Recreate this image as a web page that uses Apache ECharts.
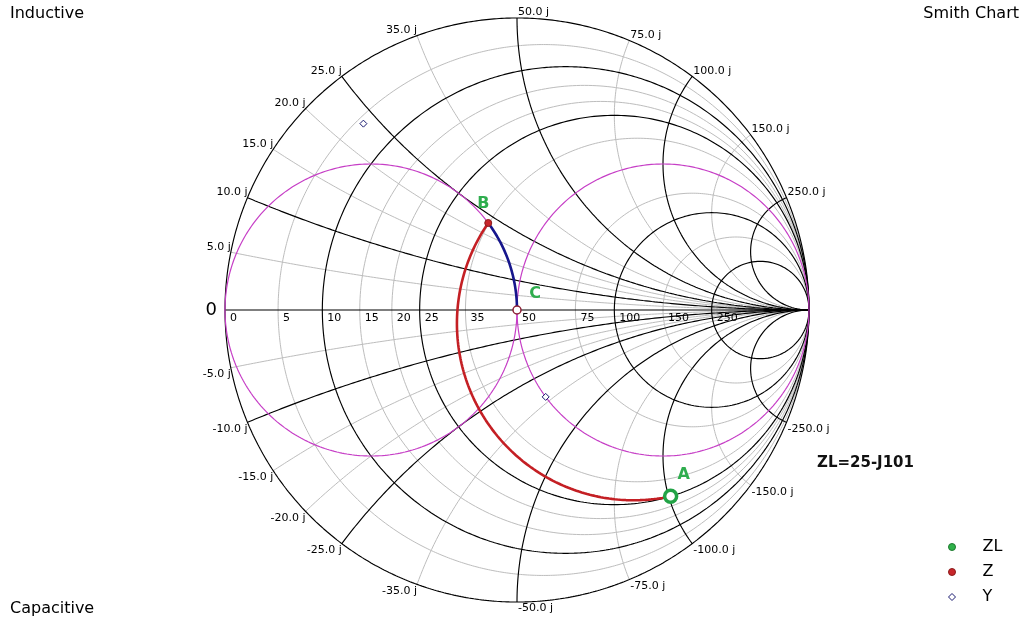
<!DOCTYPE html>
<html>
<head>
<meta charset="utf-8">
<script src="https://cdn.jsdelivr.net/npm/echarts@6/dist/echarts.min.js"></script>
<style>html,body{margin:0;padding:0;background:#fff}#chart{width:1022px;height:625px}</style>
</head>
<body>
<div id="chart"></div>
<script>
// ---------------- data ----------------
const Z0 = 50;                                            // reference impedance (ohm)
const resistanceValues = [5, 10, 15, 20, 25, 35, 50, 75, 100, 150, 250];   // ohm
const reactanceValues  = [5, 10, 15, 20, 25, 35, 50, 75, 100, 150, 250];   // ohm
const majorValues = [10, 25, 50, 100, 250];
const resistanceLabels = ['0', '5', '10', '15', '20', '25', '35', '50', '75', '100', '150', '250'];
const reactanceLabelsPos = ['5.0 j', '10.0 j', '15.0 j', '20.0 j', '25.0 j', '35.0 j', '50.0 j', '75.0 j', '100.0 j', '150.0 j', '250.0 j'];
const reactanceLabelsNeg = ['-5.0 j', '-10.0 j', '-15.0 j', '-20.0 j', '-25.0 j', '-35.0 j', '-50.0 j', '-75.0 j', '-100.0 j', '-150.0 j', '-250.0 j'];
const zlPoint = [25, -101];                 // ZL (R, X) ohm  -> point A
const zPoints = [[34.8, 23.0], [50, 0]];    // Z after line (B), matched (C)
const yPoints = [[2.31, 9.33], [20.0, -13.2]]; // admittances (G, B) in mS
const redPathZ = [[25, -101], [32.7, -4.7], [34.8, 23.0]];   // A -> B (start, via, end)
const bluePathZ = [[34.8, 23.0], [50, 0]];                   // B -> C along g = 1
const pointNames = ['A', 'B', 'C'];
const legendNames = ['ZL', 'Z', 'Y'];

// ---------------- helpers ----------------
const FONT = 'DejaVu Sans';
function gammaOf(r, x) {
  const d = (r + 1) * (r + 1) + x * x;
  return [(r * r + x * x - 1) / d, 2 * x / d];
}
function gammaZ(R, X) { return gammaOf(R / Z0, X / Z0); }
function gammaYms(G, B) { return gammaOf(G * Z0 / 1000, B * Z0 / 1000); }
function rCircle(r) {
  const c = r / (1 + r), rad = 1 / (1 + r), pts = [];
  for (let i = 0; i <= 720; i++) { const a = i * Math.PI / 360; pts.push([c + rad * Math.cos(a), rad * Math.sin(a)]); }
  return pts;
}
function xArc(x) {
  const pts = [], N = 600;
  for (let i = 0; i < N; i++) { const t = i / N; pts.push(gammaOf(t / (1 - t), x)); }
  pts.push([1, 0]);
  return pts;
}
function lineSeries(data, color, width, z, name) {
  return { type: 'line', name: name || '', data: data, showSymbol: false, symbol: 'none', smooth: false,
    lineStyle: { color: color, width: width, opacity: 1 }, silent: true, animation: false, clip: false, z: z };
}
function circumArc(p1, p2, p3) {
  const [ax, ay] = p1, [bx, by] = p2, [cx, cy] = p3;
  const d = 2 * (ax * (by - cy) + bx * (cy - ay) + cx * (ay - by));
  const ux = ((ax * ax + ay * ay) * (by - cy) + (bx * bx + by * by) * (cy - ay) + (cx * cx + cy * cy) * (ay - by)) / d;
  const uy = ((ax * ax + ay * ay) * (cx - bx) + (bx * bx + by * by) * (ax - cx) + (cx * cx + cy * cy) * (bx - ax)) / d;
  const R = Math.hypot(ax - ux, ay - uy);
  const TWO = 2 * Math.PI;
  const mod = v => ((v % TWO) + TWO) % TWO;
  const a1 = Math.atan2(ay - uy, ax - ux), a2 = Math.atan2(by - uy, bx - ux), a3 = Math.atan2(cy - uy, cx - ux);
  const d13 = mod(a3 - a1), d12 = mod(a2 - a1);
  const sweep = d12 < d13 ? d13 : d13 - TWO;
  const pts = [];
  for (let i = 0; i <= 300; i++) { const a = a1 + sweep * i / 300; pts.push([ux + R * Math.cos(a), uy + R * Math.sin(a)]); }
  return pts;
}
function constGPath(zStart, zEnd) {
  const y = ([R, X]) => { const r = R / Z0, x = X / Z0, m = r * r + x * x; return [r / m, -x / m]; };
  const ys = y(zStart), ye = y(zEnd), pts = [];
  for (let i = 0; i <= 200; i++) {
    const s = i / 200, g = ys[0] + (ye[0] - ys[0]) * s, b = ys[1] + (ye[1] - ys[1]) * s;
    const gm = gammaOf(g, b); pts.push([-gm[0], -gm[1]]);
  }
  return pts;
}

// ---------------- series ----------------
const series = [];
const GRAY = '#bdbdbd', BLACK = '#000000', MAG = '#c63ec6';
resistanceValues.forEach(R => {
  if (R === Z0) return;
  const major = majorValues.includes(R);
  series.push(lineSeries(rCircle(R / Z0), major ? BLACK : GRAY, major ? 1.15 : 1, major ? 2 : 1));
});
reactanceValues.forEach(X => {
  const major = majorValues.includes(X);
  series.push(lineSeries(xArc(X / Z0), major ? BLACK : GRAY, major ? 1.15 : 1, major ? 2 : 1));
  series.push(lineSeries(xArc(-X / Z0), major ? BLACK : GRAY, major ? 1.15 : 1, major ? 2 : 1));
});
series.push(lineSeries(rCircle(0), BLACK, 1.15, 2));          // outer circle
series.push(lineSeries(xArc(0), BLACK, 1.15, 2));             // real axis
series.push(lineSeries(rCircle(1), MAG, 1.2, 3));             // r = 1 circle
series.push(lineSeries(rCircle(1).map(p => [-p[0], -p[1]]), MAG, 1.2, 3)); // g = 1 circle

const redPts = circumArc(...redPathZ.map(p => gammaZ(p[0], p[1])));
series.push(lineSeries(redPts, '#c41f24', 2.6, 5));
series.push(lineSeries(constGPath(bluePathZ[0], bluePathZ[1]), '#16168c', 2.6, 5));

// markers
const gA = gammaZ(zlPoint[0], zlPoint[1]);
series.push({ type: 'scatter', name: 'ZL', z: 10, animation: false, silent: true,
  data: [gA], symbol: 'circle', symbolSize: 12,
  itemStyle: { color: '#ffffff', borderColor: '#22a346', borderWidth: 3.5, opacity: 1 } });
series.push({ type: 'scatter', name: 'Z', z: 10, animation: false, silent: true,
  data: [
    { value: gammaZ(zPoints[0][0], zPoints[0][1]), symbolSize: 7, itemStyle: { color: '#c8262b', borderColor: '#8b1c1c', borderWidth: 1, opacity: 1 } },
    { value: gammaZ(zPoints[1][0], zPoints[1][1]), symbolSize: 8, itemStyle: { color: '#ffffff', borderColor: '#8b2035', borderWidth: 1.5, opacity: 1 } }
  ], symbol: 'circle', itemStyle: { opacity: 1 } });
series.push({ type: 'scatter', name: 'Y', z: 10, animation: false, silent: true,
  data: yPoints.map(p => gammaYms(p[0], p[1])), symbol: 'diamond', symbolSize: 7,
  itemStyle: { color: '#ffffff', borderColor: '#1a1a70', borderWidth: 1, opacity: 1 } });

// A, B, C labels
const abcPoints = [gA, gammaZ(zPoints[0][0], zPoints[0][1]), gammaZ(zPoints[1][0], zPoints[1][1])];
const abcOffsets = [[13, -22], [-5, -19], [18, -16]];
series.push({ type: 'scatter', z: 12, animation: false, silent: true, symbolSize: 0,
  itemStyle: { opacity: 1 },
  data: abcPoints.map((p, i) => ({ value: p, label: { show: true, formatter: pointNames[i], position: [0, 0], align: 'center', verticalAlign: 'middle',
    offset: abcOffsets[i], fontSize: 16, fontWeight: 'bold', color: '#2fad4e', opacity: 1, fontFamily: FONT } })) });

// tick labels
const tickData = [];
resistanceLabels.forEach((t, i) => {
  const R = i === 0 ? 0 : resistanceValues[i - 1];
  tickData.push({ value: gammaOf(R / Z0, 0), label: { formatter: t, align: 'left', verticalAlign: 'top', offset: [5, 3] } });
});
reactanceValues.forEach((X, i) => {
  const gp = gammaOf(0, X / Z0), gn = gammaOf(0, -X / Z0);
  const right = gp[0] >= -1e-9;
  tickData.push({ value: gp, label: { formatter: reactanceLabelsPos[i], align: right ? 'left' : 'right', verticalAlign: 'bottom', offset: [right ? 1 : 0, 0] } });
  tickData.push({ value: gn, label: { formatter: reactanceLabelsNeg[i], align: right ? 'left' : 'right', verticalAlign: 'top', offset: [right ? 1 : 0, 1] } });
});
tickData.push({ value: [-1, 0], label: { formatter: '0', align: 'right', verticalAlign: 'middle', offset: [-8, 0], fontSize: 18 } });
series.push({ type: 'scatter', z: 12, animation: false, silent: true, symbolSize: 0,
  itemStyle: { opacity: 1 },
  label: { show: true, position: [0, 0], fontSize: 11, color: '#000', opacity: 1, fontFamily: FONT },
  data: tickData });

// ---------------- chart ----------------
const chart = echarts.init(document.getElementById('chart'), null, { renderer: 'canvas' });
chart.setOption({
  backgroundColor: '#ffffff',
  animation: false,
  textStyle: { fontFamily: FONT },
  grid: { left: 225, top: 18, width: 584, height: 584 },
  xAxis: { type: 'value', min: -1, max: 1, show: false },
  yAxis: { type: 'value', min: -1, max: 1, show: false },
  title: [
    { text: 'Inductive', left: 10, top: 4, padding: 0, textStyle: { fontSize: 16, fontWeight: 'normal', color: '#000', fontFamily: FONT, lineHeight: 20 } },
    { text: 'Smith Chart', right: 3, top: 4, padding: 0, textStyle: { fontSize: 16, fontWeight: 'normal', color: '#000', fontFamily: FONT, lineHeight: 20 } },
    { text: 'Capacitive', left: 10, top: 599, padding: 0, textStyle: { fontSize: 16, fontWeight: 'normal', color: '#000', fontFamily: FONT, lineHeight: 20 } },
    { text: 'ZL=25-J101', left: 817, top: 453, padding: 0, textStyle: { fontSize: 15, fontWeight: 'bold', color: '#111', fontFamily: FONT, lineHeight: 20 } }
  ],
  legend: {
    orient: 'vertical', left: 948, top: 539, padding: 0, itemWidth: 7, itemHeight: 7, itemGap: 9,
    selectedMode: false,
    textStyle: { fontSize: 16, lineHeight: 16, color: '#000', fontFamily: FONT, padding: [0, 0, 0, 22] },
    data: [
      { name: legendNames[0], icon: 'circle', itemStyle: { color: '#2fb24a', borderColor: '#1f7a30', borderWidth: 1, opacity: 1 } },
      { name: legendNames[1], icon: 'circle', itemStyle: { color: '#c8262b', borderColor: '#8b1c1c', borderWidth: 1, opacity: 1 } },
      { name: legendNames[2], icon: 'diamond', itemStyle: { color: '#ffffff', borderColor: '#1a1a70', borderWidth: 1, opacity: 1 } }
    ]
  },
  series: series
});
</script>
</body>
</html>
